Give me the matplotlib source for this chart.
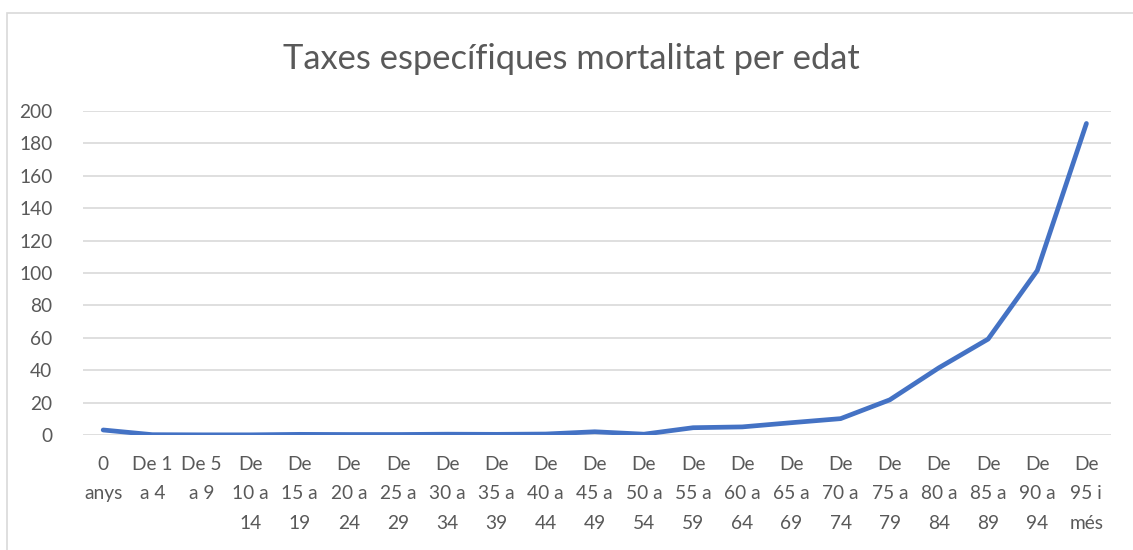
import matplotlib.pyplot as plt
from matplotlib.patches import Rectangle

# Age groups and mortality rates
categories = ['0\nanys', 'De 1\na 4', 'De 5\na 9', 'De\n10 a\n14', 'De\n15 a\n19',
              'De\n20 a\n24', 'De\n25 a\n29', 'De\n30 a\n34', 'De\n35 a\n39',
              'De\n40 a\n44', 'De\n45 a\n49', 'De\n50 a\n54', 'De\n55 a\n59',
              'De\n60 a\n64', 'De\n65 a\n69', 'De\n70 a\n74', 'De\n75 a\n79',
              'De\n80 a\n84', 'De\n85 a\n89', 'De\n90 a\n94', 'De\n95 i\nmés']
rates = [3.1, 0.2, 0.1, 0.1, 0.4, 0.3, 0.3, 0.5, 0.4, 0.6, 2.0, 0.5,
         4.5, 5.0, 7.6, 10.1, 21.7, 41.5, 59.2, 101.5, 192.3]
yticks = list(range(0, 201, 20))

text_color = '#595959'
plt.rcParams['font.family'] = ['Lato', 'DejaVu Sans']

fig = plt.figure(figsize=(11.33, 5.5), dpi=100)
# outer chart border (only top/left visible in crop)
fig.patches.append(Rectangle((7 / 1133, -0.1), 1.2, 1 - 13 / 550 + 0.1,
                             transform=fig.transFigure, fill=False,
                             edgecolor='#D9D9D9', linewidth=1.2))

ax = fig.add_axes([83 / 1133, 1 - 435 / 550, (1111 - 83) / 1133, (435 - 111) / 550])
x = list(range(len(categories)))
ax.plot(x, rates, color='#4472C4', linewidth=3.4, solid_joinstyle='round',
        solid_capstyle='round', zorder=3)

ax.set_ylim(0, 200)
ax.set_xlim(-0.41, 20.5)
ax.set_yticks(yticks)
ax.set_xticks(x)
ax.set_xticklabels(categories, linespacing=1.9, va='top')
ax.yaxis.grid(True, color='#D9D9D9', linewidth=1.2)
ax.set_axisbelow(True)
for s in ax.spines.values():
    s.set_visible(False)
ax.tick_params(axis='both', length=0, labelsize=13.8, colors=text_color)
ax.tick_params(axis='x', pad=15)
ax.tick_params(axis='y', pad=22)

fig.text(0.5045, 1 - 59 / 550, 'Taxes específiques mortalitat per edat',
         ha='center', va='center', fontsize=24.8, color=text_color)

fig.savefig('out.png', dpi=100)
